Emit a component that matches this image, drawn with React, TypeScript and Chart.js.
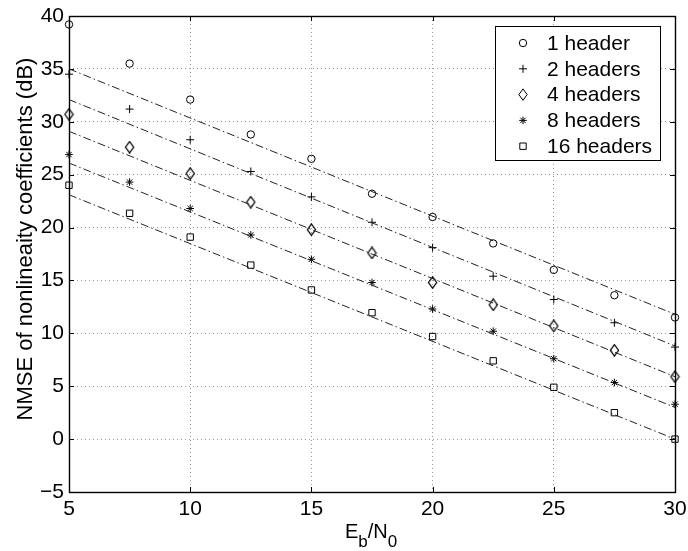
import React, { useEffect, useRef } from 'react';
import { Chart, registerables } from 'chart.js';

Chart.register(...registerables);

// ---------- data ----------
const xValues = [5, 7.5, 10, 12.5, 15, 17.5, 20, 22.5, 25, 27.5, 30];
const seriesLabels = ['1 header', '2 headers', '4 headers', '8 headers', '16 headers'];
const header1 = [39.2, 35.5, 32.1, 28.8, 26.5, 23.2, 21.0, 18.5, 16.0, 13.6, 11.5];
const header2 = [34.5, 31.2, 28.3, 25.3, 22.9, 20.5, 18.1, 15.4, 13.2, 11.0, 8.7];
const header4 = [30.7, 27.6, 25.1, 22.4, 19.8, 17.6, 14.8, 12.7, 10.7, 8.4, 5.9];
const header8 = [26.9, 24.3, 21.8, 19.3, 17.0, 14.8, 12.3, 10.2, 7.6, 5.35, 3.3];
const header16 = [24.0, 21.35, 19.1, 16.45, 14.1, 11.95, 9.7, 7.4, 4.9, 2.5, 0.0];
const fitX = [5, 30];
const fit1 = [35.0, 11.8];
const fit2 = [32.1, 8.8];
const fit4 = [29.1, 5.9];
const fit8 = [26.1, 3.0];
const fit16 = [23.1, 0.0];
const xTicks = [5, 10, 15, 20, 25, 30];
const yTicks = [-5, 0, 5, 10, 15, 20, 25, 30, 35, 40];

const markerSeries = [header1, header2, header4, header8, header16];
const fitSeries = [fit1, fit2, fit4, fit8, fit16];
const markerKinds = ['circle', 'plus', 'diamond', 'star', 'square'];

const FONT = '"Liberation Sans", Arial, Helvetica, sans-serif';

function makeDiamond(): HTMLCanvasElement {
  const c = document.createElement('canvas');
  c.width = 11;
  c.height = 13;
  const g = c.getContext('2d')!;
  g.strokeStyle = '#000';
  g.lineWidth = 1.25;
  g.beginPath();
  g.moveTo(5.5, 0.8);
  g.lineTo(9.6, 6.5);
  g.lineTo(5.5, 12.2);
  g.lineTo(1.4, 6.5);
  g.closePath();
  g.stroke();
  return c;
}

function drawMarker(g: CanvasRenderingContext2D, kind: string, cx: number, cy: number) {
  g.save();
  g.strokeStyle = '#000';
  g.lineWidth = 1;
  g.beginPath();
  if (kind === 'circle') {
    g.arc(cx, cy, 3.7, 0, Math.PI * 2);
  } else if (kind === 'plus') {
    g.moveTo(cx - 4, cy);
    g.lineTo(cx + 4, cy);
    g.moveTo(cx, cy - 4);
    g.lineTo(cx, cy + 4);
  } else if (kind === 'diamond') {
    g.moveTo(cx, cy - 5.7);
    g.lineTo(cx + 4.1, cy);
    g.lineTo(cx, cy + 5.7);
    g.lineTo(cx - 4.1, cy);
    g.closePath();
  } else if (kind === 'star') {
    const r = 3.8;
    for (let k = 0; k < 4; k++) {
      const a = (k * Math.PI) / 4;
      g.moveTo(cx - r * Math.cos(a), cy - r * Math.sin(a));
      g.lineTo(cx + r * Math.cos(a), cy + r * Math.sin(a));
    }
  } else if (kind === 'square') {
    g.rect(cx - 3.2, cy - 3.2, 6.4, 6.4);
  }
  g.stroke();
  g.restore();
}

const matlabPlugin = {
  id: 'matlabDecor',
  afterDraw(chart: any) {
    const { ctx, chartArea: a, scales } = chart;
    const xs = scales.x;
    const ys = scales.y;
    ctx.save();
    // ticks inside on four sides
    ctx.strokeStyle = '#000';
    ctx.lineWidth = 1;
    ctx.beginPath();
    const tl = 5;
    xTicks.forEach((v) => {
      const px = Math.round(xs.getPixelForValue(v)) + 0.5;
      ctx.moveTo(px, a.bottom);
      ctx.lineTo(px, a.bottom - tl);
      ctx.moveTo(px, a.top);
      ctx.lineTo(px, a.top + tl);
    });
    yTicks.forEach((v) => {
      const py = Math.round(ys.getPixelForValue(v)) + 0.5;
      ctx.moveTo(a.left, py);
      ctx.lineTo(a.left + tl, py);
      ctx.moveTo(a.right, py);
      ctx.lineTo(a.right - tl, py);
    });
    ctx.stroke();
    // box
    ctx.lineWidth = 1.4;
    ctx.strokeRect(Math.round(a.left) + 0.5, Math.round(a.top) + 0.5,
      Math.round(a.right - a.left), Math.round(a.bottom - a.top));

    // legend
    const lx = 495.5, ly = 26.5, lw = 165, lh = 134;
    ctx.fillStyle = '#fff';
    ctx.fillRect(lx, ly, lw, lh);
    ctx.lineWidth = 1;
    ctx.strokeStyle = '#000';
    ctx.strokeRect(lx, ly, lw, lh);
    ctx.fillStyle = '#000';
    ctx.font = `21px ${FONT}`;
    ctx.textBaseline = 'middle';
    ctx.textAlign = 'left';
    seriesLabels.forEach((lab, i) => {
      const yy = 43 + i * 25.8;
      drawMarker(ctx, markerKinds[i], 523, yy);
      ctx.fillText(lab, 547, yy + 1);
    });

    // y title
    ctx.save();
    ctx.translate(25, 239);
    ctx.rotate(-Math.PI / 2);
    ctx.font = `22px ${FONT}`;
    ctx.textAlign = 'center';
    ctx.textBaseline = 'middle';
    ctx.fillText('NMSE of nonlineaity coefficients (dB)', 0, 1);
    ctx.restore();

    // x title with subscripts
    ctx.textAlign = 'left';
    ctx.textBaseline = 'alphabetic';
    let x0 = 345;
    const base = 538;
    const parts: [string, boolean][] = [['E', false], ['b', true], ['/N', false], ['0', true]];
    parts.forEach(([t, sub]) => {
      ctx.font = sub ? `17px ${FONT}` : `20px ${FONT}`;
      ctx.fillText(t, x0, sub ? base + 9 : base);
      x0 += ctx.measureText(t).width;
    });
    ctx.restore();
  },
};

export default function App() {
  const ref = useRef<HTMLCanvasElement | null>(null);

  useEffect(() => {
    if (!ref.current) return;
    const datasets: any[] = [];
    fitSeries.forEach((f, i) => {
      datasets.push({
        label: seriesLabels[i] + ' fit',
        data: fitX.map((x, k) => ({ x, y: f[k] })),
        showLine: true,
        borderColor: '#222',
        borderWidth: 1,
        borderDash: [8, 3, 1.5, 3],
        pointRadius: 0,
        fill: false,
        clip: false,
      });
    });
    const styles: any[] = ['circle', 'cross', makeDiamond(), 'star', 'rect'];
    const radii = [3.7, 4, 6, 3.8, 4.5];
    markerSeries.forEach((m, i) => {
      datasets.push({
        label: seriesLabels[i],
        data: xValues.map((x, k) => ({ x, y: m[k] })),
        showLine: false,
        pointStyle: styles[i],
        pointRadius: radii[i],
        borderWidth: 1,
        borderColor: '#000',
        backgroundColor: 'transparent',
        clip: false,
      });
    });

    const gridCommon = {
      color: '#9a9a9a',
      lineWidth: 1,
      drawTicks: false,
      borderDash: [1, 3],
    };

    const chart = new Chart(ref.current, {
      type: 'scatter',
      data: { datasets },
      plugins: [matlabPlugin],
      options: {
        animation: false,
        responsive: false,
        devicePixelRatio: 1,
        layout: { padding: { top: 16, right: 13, left: 0, bottom: 0 } },
        plugins: { legend: { display: false }, tooltip: { enabled: false } },
        scales: {
          x: {
            type: 'linear',
            min: 5,
            max: 30,
            afterBuildTicks: (s: any) => { s.ticks = xTicks.map((v) => ({ value: v })); },
            afterFit: (s: any) => { s.height = 59; s.paddingLeft = 0; s.paddingRight = 0; },
            grid: gridCommon,
            border: { display: false, dash: [1, 3] },
            ticks: {
              color: '#000',
              font: { family: FONT, size: 21 },
              padding: 5,
              maxRotation: 0,
              autoSkip: false,
            },
          },
          y: {
            type: 'linear',
            min: -5,
            max: 40,
            afterBuildTicks: (s: any) => { s.ticks = yTicks.map((v) => ({ value: v })); },
            afterFit: (s: any) => { s.width = 69; s.paddingTop = 0; s.paddingBottom = 0; },
            grid: gridCommon,
            border: { display: false, dash: [1, 3] },
            ticks: {
              color: '#000',
              font: { family: FONT, size: 21 },
              padding: 5,
              autoSkip: false,
              callback: (v: any) => (v < 0 ? '\u2212' + Math.abs(v) : String(v)),
            },
          },
        },
      },
    } as any);
    return () => chart.destroy();
  }, []);

  return (
    <div style={{ position: 'absolute', left: 0, top: 0, width: 688, height: 551, background: '#fff' }}>
      <canvas ref={ref} width={688} height={551} style={{ width: 688, height: 551, display: 'block' }} />
    </div>
  );
}
